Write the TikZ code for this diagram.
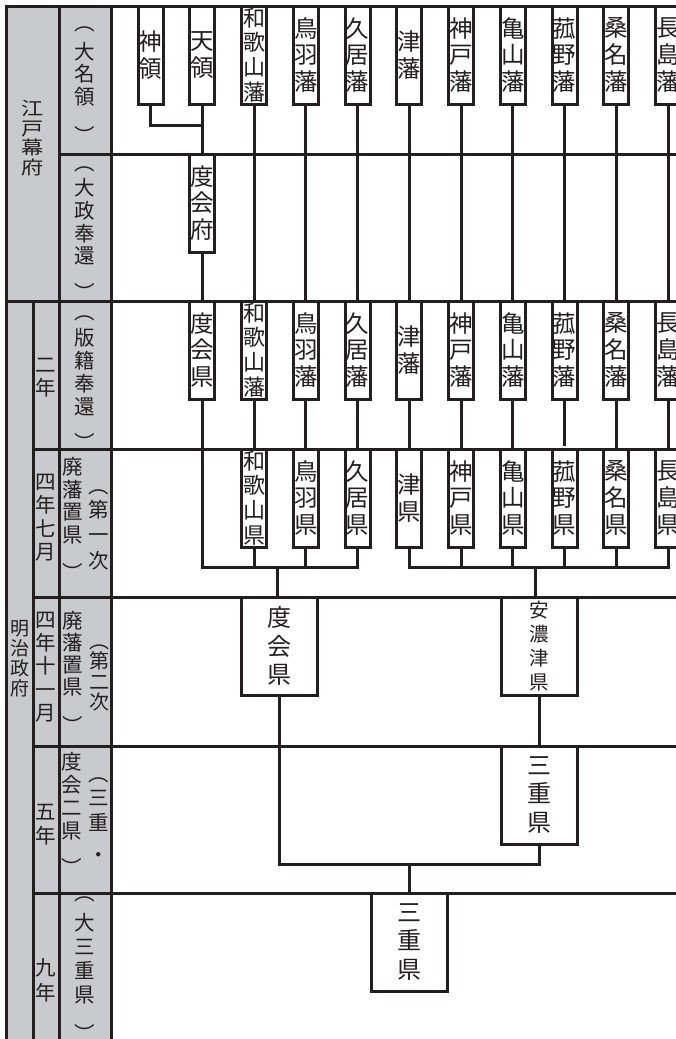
\documentclass[tikz,border=0pt]{standalone}
\usepackage{fontspec}
\setmainfont{Noto Sans CJK JP}
\definecolor{ink}{RGB}{35,31,32}
\definecolor{panel}{RGB}{201,202,205}
\tikzset{
  ln/.style={draw=ink, line width=3pt},
  sbox/.style={draw=ink, line width=3pt, fill=white, text=ink, minimum width=25pt, minimum height=98pt, inner sep=0pt, outer sep=0pt, anchor=north, align=center, font=\fontsize{23.5}{26.7}\selectfont},
  sboxf/.style={sbox, font=\fontsize{22}{24.7}\selectfont},
  bbox/.style={sbox, minimum width=76pt, font=\fontsize{24}{28.5}\selectfont},
  lab/.style={inner sep=0pt, outer sep=0pt, align=center, text=ink, font=\fontsize{20.5}{22.7}\selectfont},
}
\begin{document}
\begin{tikzpicture}[x=1pt,y=-1pt]
\useasboundingbox (0,0) rectangle (676,1039);
\clip (0,0) rectangle (676,1039);
% left panel
\fill[panel] (6,6) rectangle (111,1045);
% grid
\draw[ln] (6,1045) -- (6,6) -- (680,6);
\draw[ln] (59,6) -- (59,1045);
\draw[ln] (111,6) -- (111,1045);
\draw[ln] (33,301) -- (33,1045);
\draw[ln] (59,154) -- (680,154);
\draw[ln] (6,301) -- (680,301);
\foreach \yy in {449,597,746,893} \draw[ln] (33,\yy) -- (680,\yy);

% left labels
\node[lab, font=\fontsize{18.5}{19.5}\selectfont, xscale=1.2, transform shape] (edo) at (32.5,138) {江\\戸\\幕\\府};
\node[lab] (daimyo) at (85,85) {︵\\[6pt]大\\名\\領\\[16pt]︶};
\node[lab] (taisei) at (85,233.5) {︵\\[3pt]大\\政\\奉\\還\\[14pt]︶};
\node[lab, font=\fontsize{19}{20}\selectfont] (meiji) at (19.5,659) {明\\治\\政\\府};
\node[lab, font=\fontsize{20.5}{23}\selectfont] (y2) at (46,378) {二\\年};
\node[lab, font=\fontsize{20.5}{23}\selectfont] (hanseki) at (85,383) {︵\\[3pt]版\\籍\\奉\\還\\[13pt]︶};
\node[lab, font=\fontsize{20.5}{23.5}\selectfont] (y4a) at (46,517.5) {四\\年\\七\\月};
\node[lab, font=\fontsize{20.5}{22.5}\selectfont] (haihan1) at (72.5,519) {廃\\藩\\置\\県\\[16pt]︶};
\node[lab, font=\fontsize{20.5}{25.5}\selectfont] (dai1) at (99,530) {︵\\[-2pt]第\\一\\次};
\node[lab, font=\fontsize{20.5}{23.2}\selectfont] (y4b) at (46,667) {四\\年\\十\\一\\月};
\node[lab, font=\fontsize{20.5}{22}\selectfont] (haihan2) at (72.5,672) {廃\\藩\\置\\県\\[17pt]︶};
\node[lab, font=\fontsize{20}{20.5}\selectfont] (dai2) at (99,678) {︵\\第\\二\\次};
\node[lab, font=\fontsize{20.5}{24}\selectfont] (y5) at (46,825) {五\\年};
\node[lab, font=\fontsize{20.5}{23}\selectfont] (watarai2) at (72,814) {度\\会\\二\\県\\[14pt]︶};
\node[lab, font=\fontsize{20.5}{24.5}\selectfont] (mie1) at (99,820) {︵\\三\\重\\[8pt]・};
\node[lab, font=\fontsize{20.5}{25}\selectfont] (y9) at (46,980.5) {九\\年};
\node[lab, font=\fontsize{20.5}{24}\selectfont] (daimie) at (85,969.5) {︵\\[6pt]大\\三\\重\\県\\[15pt]︶};

% row 1 (Daimyo domains)
\node[sbox]  (a0)  at (150.5,6)  {神\\領};
\node[sbox]  (a1)  at (202.25,6) {天\\領};
\node[sboxf] (a2)  at (254,6)    {和\\歌\\山\\藩};
\node[sbox]  (a3)  at (305.75,6) {鳥\\羽\\藩};
\node[sbox]  (a4)  at (357.5,6)  {久\\居\\藩};
\node[sbox]  (a5)  at (409.25,6) {津\\藩};
\node[sbox]  (a6)  at (461,6)    {神\\戸\\藩};
\node[sbox]  (a7)  at (512.75,6) {亀\\山\\藩};
\node[sbox]  (a8)  at (564.5,6)  {菰\\野\\藩};
\node[sbox]  (a9)  at (616.25,6) {桑\\名\\藩};
\node[sbox]  (a10) at (668,6)    {長\\島\\藩};
% row 2
\node[sbox]  (b1)  at (202.25,154) {度\\会\\府};
% row 3
\node[sbox]  (c1)  at (202.25,301) {度\\会\\県};
\node[sboxf] (c2)  at (254,301)    {和\\歌\\山\\藩};
\node[sbox]  (c3)  at (305.75,301) {鳥\\羽\\藩};
\node[sbox]  (c4)  at (357.5,301)  {久\\居\\藩};
\node[sbox]  (c5)  at (409.25,301) {津\\藩};
\node[sbox]  (c6)  at (461,301)    {神\\戸\\藩};
\node[sbox]  (c7)  at (512.75,301) {亀\\山\\藩};
\node[sbox]  (c8)  at (564.5,301)  {菰\\野\\藩};
\node[sbox]  (c9)  at (616.25,301) {桑\\名\\藩};
\node[sbox]  (c10) at (668,301)    {長\\島\\藩};
% row 4
\node[sboxf] (d2)  at (254,449)    {和\\歌\\山\\県};
\node[sbox]  (d3)  at (305.75,449) {鳥\\羽\\県};
\node[sbox]  (d4)  at (357.5,449)  {久\\居\\県};
\node[sbox]  (d5)  at (409.25,449) {津\\県};
\node[sbox]  (d6)  at (461,449)    {神\\戸\\県};
\node[sbox]  (d7)  at (512.75,449) {亀\\山\\県};
\node[sbox]  (d8)  at (564.5,449)  {菰\\野\\県};
\node[sbox]  (d9)  at (616.25,449) {桑\\名\\県};
\node[sbox]  (d10) at (668,449)    {長\\島\\県};
% row 5
\node[bbox]  (e1)  at (279.5,597) {度\\会\\県};
\node[bbox, font=\fontsize{19.5}{24}\selectfont] (e2) at (539,597) {安\\濃\\津\\県};
% row 6
\node[bbox]  (f)   at (539,746) {三\\重\\県};
% row 7
\node[bbox]  (g)   at (409.5,893) {三\\重\\県};

% connectors
\coordinate (y125) at (0,125);
\coordinate (y567) at (0,567);
\coordinate (y864) at (0,864);
\draw[ln] (a0.south) |- (a1.south |- y125);
\draw[ln] (a1.south) -- (b1.north);
\draw[ln] (b1.south) -- (c1.north);
\foreach \k in {2,...,10} \draw[ln] (a\k.south) -- (c\k.north);
\foreach \k in {2,3,4,5,6,7,9,10} \draw[ln] (c\k.south) -- (d\k.north);
\draw[ln] (c8.south) -- ([yshift=3pt]d8.north);
\draw[ln] (c1.south) |- (d4.south |- y567) -- (d4.south);
\foreach \k in {2,3} \draw[ln] (d\k.south) -- (d\k.south |- y567);
\draw[ln] (d5.south) |- (d10.south |- y567) -- (d10.south);
\foreach \k in {6,...,9} \draw[ln] (d\k.south) -- (d\k.south |- y567);
\coordinate (m1) at (277,567);
\coordinate (m2) at (535,567);
\draw[ln] (m1) -- (m1 |- e1.north);
\draw[ln] (m2) -- (m2 |- e2.north);
\draw[ln] (e2.south) -- (f.north);
\draw[ln] (e1.south) |- (f.south |- y864) -- (f.south);
\draw[ln] (g.north |- y864) -- (g.north);
\end{tikzpicture}
\end{document}
